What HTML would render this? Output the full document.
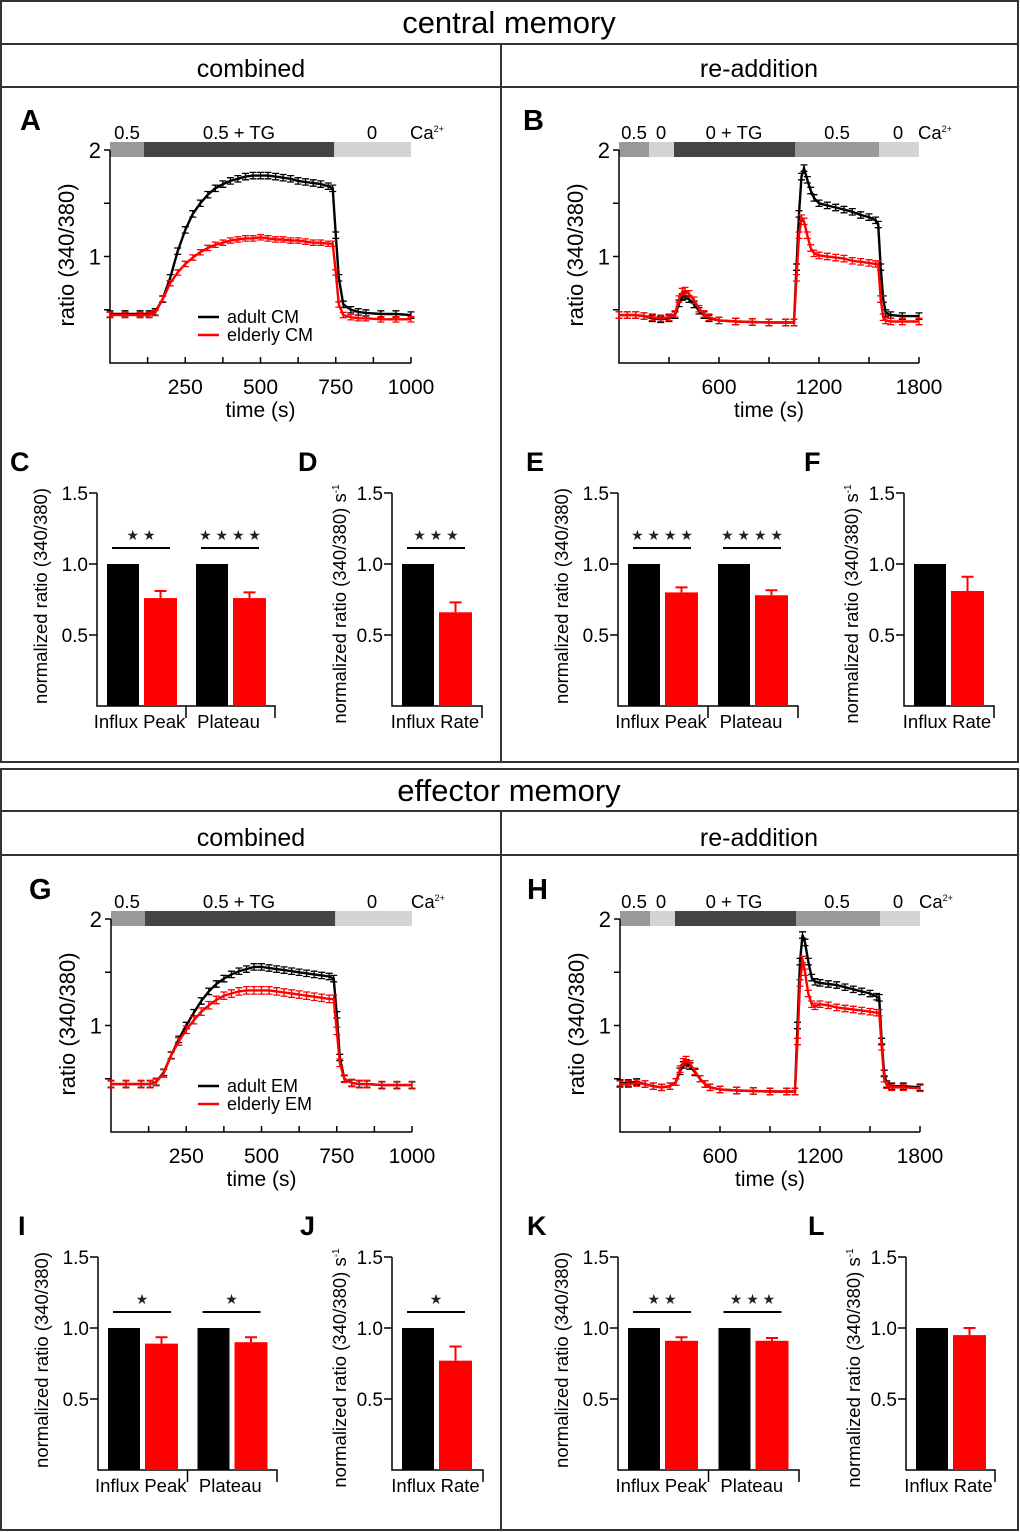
<!DOCTYPE html>
<html><head><meta charset="utf-8">
<style>
html,body{margin:0;padding:0;background:#fff;}
svg{display:block;font-family:"Liberation Sans",Arial,sans-serif;}
</style></head>
<body>
<svg id="fig" width="1020" height="1532" viewBox="0 0 1020 1532" xmlns="http://www.w3.org/2000/svg">
<g fill="none" stroke="#333" stroke-width="2">
<rect x="1" y="1" width="1017" height="761"/>
<line x1="1" y1="44" x2="1018" y2="44"/>
<line x1="1" y1="87" x2="1018" y2="87"/>
<line x1="501" y1="44" x2="501" y2="762"/>
<rect x="1" y="769" width="1017" height="761"/>
<line x1="1" y1="811" x2="1018" y2="811"/>
<line x1="1" y1="855" x2="1018" y2="855"/>
<line x1="501" y1="811" x2="501" y2="1530"/>
</g>
<text x="509" y="33" font-size="31" text-anchor="middle">central memory</text>
<text x="251" y="77" font-size="25" text-anchor="middle">combined</text>
<text x="759" y="77" font-size="25" text-anchor="middle">re-addition</text>
<text x="509" y="801" font-size="31" text-anchor="middle">effector memory</text>
<text x="251" y="846" font-size="25" text-anchor="middle">combined</text>
<text x="759" y="846" font-size="25" text-anchor="middle">re-addition</text>
</svg>
<script>
// ===== trace data =====
const tA = [0,50,100,130,150,175,200,225,250,275,300,325,350,375,400,425,450,475,500,525,550,575,600,625,650,675,700,725,740,750,760,775,800,825,850,900,950,1000];
const adultA = [0.46,0.46,0.46,0.46,0.48,0.6,0.8,1.05,1.25,1.4,1.5,1.58,1.64,1.68,1.71,1.73,1.75,1.76,1.76,1.76,1.75,1.74,1.73,1.71,1.7,1.69,1.68,1.66,1.64,1.2,0.8,0.55,0.5,0.48,0.47,0.46,0.46,0.45];
const elderlyA = [0.45,0.45,0.45,0.45,0.47,0.6,0.75,0.85,0.93,0.99,1.04,1.08,1.11,1.13,1.15,1.16,1.17,1.17,1.18,1.17,1.16,1.16,1.15,1.15,1.14,1.13,1.13,1.12,1.12,0.85,0.55,0.45,0.43,0.42,0.42,0.41,0.41,0.41];
const tB = [0,50,100,150,200,250,300,336,360,380,396,420,450,480,510,540,600,700,800,900,1000,1050,1065,1080,1095,1110,1130,1150,1170,1200,1250,1300,1350,1400,1450,1500,1540,1555,1570,1585,1600,1630,1700,1800];
const adultB = [0.45,0.45,0.45,0.44,0.42,0.41,0.42,0.45,0.56,0.62,0.63,0.6,0.55,0.49,0.45,0.42,0.4,0.39,0.385,0.38,0.38,0.38,0.9,1.4,1.75,1.83,1.72,1.62,1.55,1.5,1.48,1.46,1.44,1.42,1.39,1.37,1.34,1.3,0.9,0.6,0.47,0.45,0.44,0.44];
const elderlyB = [0.45,0.45,0.45,0.44,0.43,0.42,0.43,0.46,0.6,0.67,0.68,0.65,0.59,0.51,0.46,0.43,0.4,0.39,0.385,0.38,0.38,0.38,0.8,1.2,1.36,1.33,1.2,1.08,1.03,1.01,1.0,0.99,0.98,0.96,0.95,0.94,0.93,0.93,0.6,0.43,0.4,0.39,0.39,0.39];
const tG = tA;
const adultG = [0.45,0.45,0.45,0.45,0.47,0.56,0.72,0.87,1.0,1.12,1.23,1.32,1.39,1.44,1.48,1.51,1.53,1.55,1.55,1.54,1.53,1.52,1.51,1.5,1.49,1.48,1.47,1.46,1.44,1.1,0.7,0.5,0.46,0.45,0.45,0.44,0.44,0.44];
const elderlyG = [0.45,0.45,0.45,0.45,0.47,0.55,0.72,0.85,0.96,1.05,1.13,1.19,1.24,1.28,1.3,1.32,1.33,1.33,1.33,1.33,1.32,1.31,1.3,1.29,1.28,1.27,1.26,1.25,1.25,0.95,0.65,0.5,0.46,0.45,0.45,0.44,0.44,0.44];
const tH = tB;
const adultH = [0.46,0.46,0.47,0.45,0.43,0.42,0.43,0.47,0.57,0.63,0.65,0.62,0.56,0.5,0.45,0.42,0.4,0.39,0.385,0.38,0.38,0.38,1.0,1.6,1.85,1.78,1.6,1.45,1.41,1.4,1.39,1.38,1.36,1.34,1.32,1.3,1.27,1.26,0.85,0.55,0.45,0.43,0.43,0.42];
const elderlyH = [0.45,0.45,0.46,0.45,0.43,0.42,0.43,0.47,0.59,0.66,0.68,0.64,0.57,0.5,0.45,0.42,0.4,0.39,0.385,0.38,0.38,0.38,0.85,1.4,1.62,1.5,1.3,1.2,1.18,1.2,1.19,1.17,1.16,1.15,1.14,1.13,1.12,1.12,0.8,0.5,0.44,0.42,0.42,0.41];
const semAdult = [0.03, 0.03, 0.03, 0.03];
const semElderly = [0.025, 0.03, 0.035, 0.03];
const xTicksCombined = [250,500,750,1000];
const xTicksReadd = [600,1200,1800];
const yTicksTrace = [1,2];
// ===== bar data =====
const barCats2 = ["Influx Peak","Plateau"];
const barCats1 = ["Influx Rate"];
const adultBar = [1.0,1.0];
const elderC = [0.76,0.76], errC = [0.05,0.04], sigC = ["★★","★★★★"];
const elderD = [0.66], errD = [0.07], sigD = ["★★★"];
const elderE = [0.80,0.78], errE = [0.035,0.035], sigE = ["★★★★","★★★★"];
const elderF = [0.81], errF = [0.10], sigF = [""];
const elderI = [0.89,0.90], errI = [0.045,0.035], sigI = ["★","★"];
const elderJ = [0.77], errJ = [0.10], sigJ = ["★"];
const elderK = [0.91,0.91], errK = [0.025,0.02], sigK = ["★★","★★★"];
const elderL = [0.95], errL = [0.05], sigL = [""];
const barYTicks = ["0.5","1.0","1.5"];
const barYVals = [0.5,1.0,1.5];
// ===== Ca protocol =====
const protoCombStarts = [0,113,745], protoCombEnds = [113,745,1000];
const protoCombColors = ["#999","#444","#d4d4d4"];
const protoCombLabels = ["0.5","0.5 + TG","0"];
const protoCombLabelX = [127,239,372];
const protoReStarts = [0,180,330,1056,1560], protoReEnds = [180,330,1056,1560,1800];
const protoReColors = ["#999","#d4d4d4","#444","#999","#d4d4d4"];
const protoReLabels = ["0.5","0","0 + TG","0.5","0"];
const protoReLabelX = [634,661,734,837,898];

const NS = "http://www.w3.org/2000/svg";
const svg = document.getElementById('fig');
function mk(tag, attrs, parent){
  const e = document.createElementNS(NS, tag);
  for (const k in attrs) e.setAttribute(k, attrs[k]);
  (parent||svg).appendChild(e);
  return e;
}
function txt(parent, x, y, s, size, anchor, extra){
  const e = mk('text', Object.assign({x:x, y:y, 'font-size':size, 'text-anchor':anchor||'start'}, extra||{}), parent);
  e.textContent = s;
  return e;
}

function tracePanel(name, letter, lx, yoff, x0, x1, xmax, ticks, times, sA, sE, semA, semE, starts, ends, colors, labels, labelX, legend){
  const g = mk('g', {transform:'translate(0,'+yoff+')'});
  
  
  const X = t => x0 + t / xmax * (x1 - x0);
  const Y = v => 363 - v * 106.5;
  const L = txt(g, lx, 130, letter, 29, 'start', {'font-weight':'bold'});
  
  
  for (let i = 0; i < starts.length; i++){
    const r = mk('rect', {x:X(starts[i]), y:142, width:X(ends[i])-X(starts[i]), height:15, fill:colors[i]}, g);
    
    
    const t = txt(g, labelX[i], 139, labels[i], 18.5, 'middle');
    
    
  }
  const ca = txt(g, x1 - 1, 139, 'Ca', 18.5, 'start');
  
  
  const sup = mk('tspan', {dy:-7, 'font-size':9}, ca); sup.textContent = '2+';
  const ax = mk('path', {d:'M'+x0+','+Y(2)+' V363 H'+x1, fill:'none', stroke:'#000', 'stroke-width':1.5}, g);
  
  
  [0.5,1,1.5,2].forEach(v => {
    const tk = mk('line', {x1:x0-6, x2:x0, y1:Y(v), y2:Y(v), stroke:'#000', 'stroke-width':1.5}, g);
    
    
  });
  yTicksTrace.forEach(v => {
    const t = txt(g, x0-9, Y(v)+8, String(v), 22, 'end');
    
    
  });
  const step = ticks[1]-ticks[0];
  for (let t = step/2; t <= xmax + 0.1; t += step/2){
    const tk = mk('line', {x1:X(t), x2:X(t), y1:363, y2:357, stroke:'#000', 'stroke-width':1.5}, g);
    
    
  }
  ticks.forEach(v => {
    const t = txt(g, X(v), 394, String(v), 21, 'middle');
    
    
  });
  const xt = txt(g, (x0+x1)/2, 417, 'time (s)', 21, 'middle');
  
  
  const yt = txt(g, 0, 0, 'ratio (340/380)', 22, 'middle', {transform:'translate('+(x0-36)+',255) rotate(-90)'});
  
  
  [[sA, semA, '#000', 'adult'], [sE, semE, '#f00', 'elderly']].forEach(s => {
    const vals = s[0];
    let d = '';
    times.forEach((t,i) => { d += (i?'L':'M') + X(t).toFixed(1) + ',' + Y(vals[i]).toFixed(1); });
    const p = mk('path', {d:d, fill:'none', stroke:s[2], 'stroke-width':2.4}, g);
    
    
    let ed = '';
    times.forEach((t,i) => {
      const x = X(t), a = Y(vals[i]+s[1]), b = Y(vals[i]-s[1]);
      ed += 'M'+x.toFixed(1)+','+a.toFixed(1)+'V'+b.toFixed(1)+'M'+(x-3.5).toFixed(1)+','+a.toFixed(1)+'h7M'+(x-3.5).toFixed(1)+','+b.toFixed(1)+'h7';
    });
    const e = mk('path', {d:ed, fill:'none', stroke:s[2], 'stroke-width':1.3}, g);
    
    
  });
  if (legend){
    const l1 = mk('line', {x1:198, x2:219, y1:317, y2:317, stroke:'#000', 'stroke-width':2.5}, g);
    
    
    const l2 = mk('line', {x1:198, x2:219, y1:335, y2:335, stroke:'#f00', 'stroke-width':2.5}, g);
    
    
    const t1 = txt(g, 227, 323, legend[0], 18);
    
    
    const t2 = txt(g, 227, 341, legend[1], 18);
    
    
  }
}

function barPanel(name, letter, lx, yoff, x0, x1, cats, adult, elder, err, sig, rate){
  const g = mk('g', {transform:'translate(0,'+yoff+')'});
  
  
  const Y = v => 706 - v * 142;
  const L = txt(g, lx, 471, letter, 27, 'start', {'font-weight':'bold'});
  
  
  const ax = mk('path', {d:'M'+x0+','+Y(1.5)+' V706 H'+x1+' v12', fill:'none', stroke:'#000', 'stroke-width':1.5}, g);
  
  
  barYVals.forEach((v,i) => {
    const tk = mk('line', {x1:x0-8, x2:x0, y1:Y(v), y2:Y(v), stroke:'#000', 'stroke-width':1.5}, g);
    
    
    const t = txt(g, x0-9, Y(v)+7, barYTicks[i], 19, 'end');
    
    
  });
  const gw = (x1 - x0) / cats.length;
  const yt = txt(g, 0, 0, rate ? 'normalized ratio (340/380) s' : 'normalized ratio (340/380)', 18.5, 'middle', {transform:'translate('+(x0-(rate?46:50))+','+(rate?604:596)+') rotate(-90)'});
  
  
  if (rate){ const s = mk('tspan', {dy:-7, 'font-size':10}, yt); s.textContent = '-1'; }
  cats.forEach((c,i) => {
    const gx = x0 + i * gw;
    const b1 = mk('rect', {x:gx+10, y:Y(adult[i]), width:32, height:706-Y(adult[i]), fill:'#000'}, g);
    
    
    const b2 = mk('rect', {x:gx+47, y:Y(elder[i]), width:33, height:706-Y(elder[i]), fill:'#f00'}, g);
    
    
    const ex = gx + 63.5;
    const eb = mk('path', {d:'M'+ex+','+Y(elder[i])+'V'+Y(elder[i]+err[i])+'M'+(ex-6)+','+Y(elder[i]+err[i])+'h12', fill:'none', stroke:'#f00', 'stroke-width':2}, g);
    
    
    if (i > 0){
      const dv = mk('line', {x1:gx, x2:gx, y1:706, y2:718, stroke:'#000', 'stroke-width':1.5}, g);
      
      
    }
    const cl = txt(g, gx + gw/2 - 2, 728, c, 18.5, 'middle');
    
    
    if (sig[i]){
      const sl = mk('line', {x1:gx+15, x2:gx+73, y1:548, y2:548, stroke:'#000', 'stroke-width':2}, g);
      
      
      const st = txt(g, gx+44, 540, sig[i].split('').join(' '), 14, 'middle', {fill:'#222'});
      
      
    }
  });
}

tracePanel('panel-a','A',20,0,110,411,1000,xTicksCombined,tA,adultA,elderlyA,semAdult[0],semElderly[0],protoCombStarts,protoCombEnds,protoCombColors,protoCombLabels,protoCombLabelX,['adult CM','elderly CM']);
tracePanel('panel-b','B',523,0,619,919,1800,xTicksReadd,tB,adultB,elderlyB,semAdult[1],semElderly[1],protoReStarts,protoReEnds,protoReColors,protoReLabels,protoReLabelX,null);
tracePanel('panel-g','G',29,769,111,412,1000,xTicksCombined,tG,adultG,elderlyG,semAdult[2],semElderly[2],protoCombStarts,protoCombEnds,protoCombColors,protoCombLabels,protoCombLabelX,['adult EM','elderly EM']);
tracePanel('panel-h','H',527,769,620,920,1800,xTicksReadd,tH,adultH,elderlyH,semAdult[3],semElderly[3],protoReStarts,protoReEnds,protoReColors,protoReLabels,protoReLabelX,null);

barPanel('panel-c','C',10,0,97,275,barCats2,adultBar,elderC,errC,sigC,false);
barPanel('panel-d','D',298,0,392,482,barCats1,adultBar,elderD,errD,sigD,true);
barPanel('panel-e','E',526,0,618,798,barCats2,adultBar,elderE,errE,sigE,false);
barPanel('panel-f','F',804,0,904,994,barCats1,adultBar,elderF,errF,sigF,true);
barPanel('panel-i','I',18,764,98,277,barCats2,adultBar,elderI,errI,sigI,false);
barPanel('panel-j','J',300,764,392,483,barCats1,adultBar,elderJ,errJ,sigJ,true);
barPanel('panel-k','K',527,764,618,799,barCats2,adultBar,elderK,errK,sigK,false);
barPanel('panel-l','L',808,764,906,995,barCats1,adultBar,elderL,errL,sigL,true);
</script>
</body></html>
